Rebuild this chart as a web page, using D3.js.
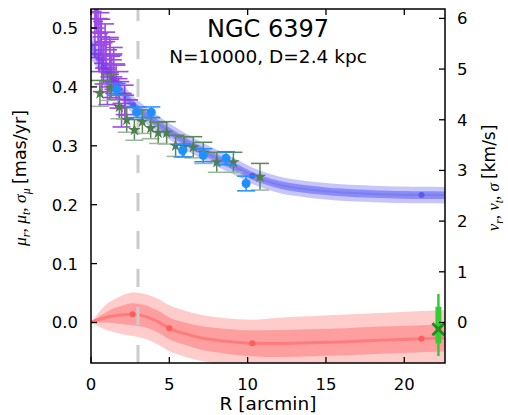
<!DOCTYPE html>
<html>
<head>
<meta charset="utf-8">
<script src="https://cdn.jsdelivr.net/npm/d3@7"></script>
<style>
  body { margin: 0; background: #fff; }
  text { font-family: "DejaVu Sans", sans-serif; fill: #000; }
</style>
</head>
<body>
<svg id="chart" width="508" height="415"></svg>
<script>
// ---------- data (proper motions in mas/yr, radius in arcmin) ----------
const xTicks = [0, 5, 10, 15, 20];
const yTicks = [0.0, 0.1, 0.2, 0.3, 0.4, 0.5];
const yRightTicks = [0, 1, 2, 3, 4, 5, 6];
const kmsPerMasYr = 11.62;

// dispersion model: median and 1/2-sigma half widths
const dispR   = [0, 0.5, 1.0, 1.5, 2.0, 2.7, 3.5, 4.5, 5.5, 6.5, 7.5, 8.5, 9.5, 10.3, 11, 12, 13, 14, 15, 16, 17, 18, 19, 20, 21.1, 22.6];
const dispMid = [0.470, 0.447, 0.427, 0.408, 0.391, 0.369, 0.352, 0.333, 0.316, 0.300, 0.286, 0.273, 0.260, 0.249, 0.242, 0.234, 0.229, 0.2255, 0.2228, 0.2208, 0.2193, 0.2182, 0.2173, 0.2167, 0.2163, 0.2160];
const dispIn  = [0.011, 0.010, 0.009, 0.0085, 0.008, 0.0075, 0.007, 0.007, 0.0068, 0.0066, 0.0065, 0.0065, 0.0065, 0.0065, 0.0065, 0.0065, 0.0065, 0.0065, 0.0065, 0.0065, 0.0065, 0.0065, 0.0065, 0.0065, 0.0065, 0.0065];
const dispOut = [0.022, 0.020, 0.018, 0.017, 0.016, 0.015, 0.0145, 0.014, 0.014, 0.014, 0.014, 0.014, 0.014, 0.014, 0.014, 0.014, 0.014, 0.014, 0.014, 0.014, 0.014, 0.014, 0.014, 0.014, 0.014, 0.014];
const dispNodeR = [2.7, 10.3, 21.1];
const dispNode  = [0.369, 0.249, 0.2163];

// rotation model: median and 1/2-sigma half widths
const rotR   = [0, 0.5, 1.0, 1.5, 2.0, 2.65, 3.5, 4.3, 5.0, 6.0, 7.0, 8.5, 10.3, 12, 14, 16.3, 18.5, 21.1, 22.6];
const rotMid = [0, 0.005, 0.009, 0.0115, 0.013, 0.0139, 0.010, 0.001, -0.0099, -0.019, -0.026, -0.0315, -0.0353, -0.0358, -0.0345, -0.0326, -0.030, -0.0275, -0.0263];
const rotIn  = [0, 0.005, 0.009, 0.013, 0.016, 0.0187, 0.0187, 0.0185, 0.0185, 0.019, 0.020, 0.021, 0.022, 0.023, 0.023, 0.023, 0.023, 0.023, 0.023];
const rotOut = [0, 0.012, 0.022, 0.028, 0.033, 0.037, 0.038, 0.039, 0.039, 0.039, 0.039, 0.039, 0.040, 0.044, 0.045, 0.046, 0.046, 0.047, 0.047];
const rotNodeR = [2.65, 5.0, 10.3, 21.1];
const rotNode  = [0.0139, -0.0099, -0.0353, -0.0275];

// inner-field measurements (violet): radius, value, radius error, value error
const inR    = [0.30, 0.36, 0.45, 0.60, 0.66, 0.90, 0.50, 0.96, 1.20, 1.20, 1.45, 1.43, 1.60, 1.30, 1.75, 2.15, 2.17, 1.95, 0.25, 0.80, 1.05, 0.70];
const inMu   = [0.540, 0.528, 0.511, 0.491, 0.485, 0.477, 0.471, 0.463, 0.454, 0.446, 0.437, 0.426, 0.409, 0.417, 0.389, 0.378, 0.366, 0.352, 0.500, 0.440, 0.400, 0.432];
const inRErr = [0.30, 0.32, 0.32, 0.50, 0.55, 0.64, 0.40, 0.70, 0.77, 0.77, 0.75, 0.96, 0.85, 0.70, 0.85, 0.85, 0.64, 0.22, 0.25, 0.60, 0.55, 0.45];
const inMuErr= [0.040, 0.035, 0.040, 0.035, 0.030, 0.030, 0.045, 0.030, 0.030, 0.035, 0.030, 0.030, 0.030, 0.035, 0.025, 0.025, 0.020, 0.020, 0.050, 0.035, 0.030, 0.040];

// second sample (stars) and third sample (filled circles)
const starR   = [0.57, 1.21, 1.81, 2.28, 2.77, 3.28, 3.81, 4.29, 4.83, 5.40, 5.94, 6.53, 7.17, 8.03, 9.09, 10.79];
const starMu  = [0.389, 0.399, 0.366, 0.344, 0.327, 0.341, 0.330, 0.322, 0.322, 0.300, 0.2985, 0.2975, 0.288, 0.272, 0.272, 0.2475];
const starErr = [0.022, 0.022, 0.020, 0.021, 0.0175, 0.020, 0.018, 0.018, 0.019, 0.018, 0.017, 0.018, 0.018, 0.017, 0.017, 0.0226];
const dotR    = [1.64, 2.91, 3.85, 5.85, 7.17, 8.62, 9.90];
const dotMu   = [0.396, 0.357, 0.357, 0.292, 0.284, 0.279, 0.236];
const dotErr  = [0.010, 0.009, 0.009, 0.011, 0.011, 0.011, 0.0125];

// line-of-sight summary at the outer edge
const losR = 22.18;
const losMark = -0.0115;
const los1 = [-0.0353, 0.0268];
const los2 = [-0.057, 0.0484];

// ---------- layout ----------
const svg = d3.select("#chart");
const L = 91, R = 445, T = 9, B = 363;
const x = d3.scaleLinear().domain([0, 22.6]).range([L, R]);
const y = d3.scaleLinear().domain([-0.0688, 0.5323]).range([B, T]);
const yKms = d3.scaleLinear().domain(y.domain().map(v => v * kmsPerMasYr)).range([B, T]);

svg.append("defs").append("clipPath").attr("id", "plot")
  .append("rect").attr("x", L).attr("y", T).attr("width", R - L).attr("height", B - T);
const g = svg.append("g").attr("clip-path", "url(#plot)");

function areaOf(rs, mid, half) {
  const pts = rs.map((r, i) => ({ r, lo: mid[i] - half[i], hi: mid[i] + half[i] }));
  return d3.area().curve(d3.curveMonotoneX)
    .x(d => x(d.r)).y0(d => y(d.lo)).y1(d => y(d.hi))(pts);
}
const line = d3.line().curve(d3.curveMonotoneX).x(d => x(d[0])).y(d => y(d[1]));

// rotation model
g.append("path").attr("d", areaOf(rotR, rotMid, rotOut)).attr("fill", "#ffcccc");
g.append("path").attr("d", areaOf(rotR, rotMid, rotIn)).attr("fill", "#ff9e9e");
g.append("path").attr("d", line(rotR.map((r, i) => [r, rotMid[i]])))
  .attr("fill", "none").attr("stroke", "#ff7c7c").attr("stroke-width", 3);
g.selectAll(".rn").data(rotNodeR).join("circle")
  .attr("cx", d => x(d)).attr("cy", (d, i) => y(rotNode[i])).attr("r", 3).attr("fill", "#ff5c5c");

// reference radius
g.append("line").attr("x1", x(3)).attr("x2", x(3)).attr("y1", B).attr("y2", T)
  .attr("stroke", "#cccccc").attr("stroke-width", 3).attr("stroke-dasharray", "18,20");

// dispersion model
g.append("path").attr("d", areaOf(dispR, dispMid, dispOut)).attr("fill", "#c6c6fc");
g.append("path").attr("d", areaOf(dispR, dispMid, dispIn)).attr("fill", "#8c8cf6");
g.append("path").attr("d", line(dispR.map((r, i) => [r, dispMid[i]])))
  .attr("fill", "none").attr("stroke", "#7c7cf3").attr("stroke-width", 2);
g.selectAll(".dn").data(dispNodeR).join("circle")
  .attr("cx", d => x(d)).attr("cy", (d, i) => y(dispNode[i])).attr("r", 3).attr("fill", "#5a5aee");

// inner-field measurements
const cap = 9;
const inG = g.append("g").attr("stroke", "#8a2be2").attr("stroke-width", 1.6).attr("opacity", 0.85);
inR.forEach((r, i) => {
  const cx = x(r), cy = y(inMu[i]);
  inG.append("line").attr("x1", x(r - inRErr[i])).attr("x2", x(r + inRErr[i])).attr("y1", cy).attr("y2", cy);
  const y0 = y(inMu[i] - inMuErr[i]), y1 = y(inMu[i] + inMuErr[i]);
  inG.append("line").attr("x1", cx).attr("x2", cx).attr("y1", y0).attr("y2", y1);
  inG.append("line").attr("x1", cx - cap).attr("x2", cx + cap).attr("y1", y0).attr("y2", y0);
  inG.append("line").attr("x1", cx - cap).attr("x2", cx + cap).attr("y1", y1).attr("y2", y1);
});

// filled-circle sample
const dotG = g.append("g");
dotR.forEach((r, i) => {
  const cx = x(r), y0 = y(dotMu[i] - dotErr[i]), y1 = y(dotMu[i] + dotErr[i]);
  dotG.append("line").attr("x1", cx).attr("x2", cx).attr("y1", y0).attr("y2", y1).attr("stroke", "#1e90ff").attr("stroke-width", 1.5);
  [y0, y1].forEach(yy => dotG.append("line").attr("x1", cx - cap).attr("x2", cx + cap)
    .attr("y1", yy).attr("y2", yy).attr("stroke", "#1e90ff").attr("stroke-width", 1.5));
});

// star sample
const starG = g.append("g");
starR.forEach((r, i) => {
  const cx = x(r), y0 = y(starMu[i] - starErr[i]), y1 = y(starMu[i] + starErr[i]);
  starG.append("line").attr("x1", cx).attr("x2", cx).attr("y1", y0).attr("y2", y1).attr("stroke", "#5a875a").attr("stroke-width", 1.5);
  starG.append("line").attr("x1", cx - cap).attr("x2", cx + cap).attr("y1", y1).attr("y2", y1).attr("stroke", "#5a875a").attr("stroke-width", 1.5);
  starG.append("line").attr("x1", cx - cap).attr("x2", cx + cap).attr("y1", y0).attr("y2", y0).attr("stroke", "#9bb89b").attr("stroke-width", 1.5);
});
dotG.raise();
dotG.selectAll("circle").data(dotR).join("circle")
  .attr("cx", d => x(d)).attr("cy", (d, i) => y(dotMu[i])).attr("r", 4.5).attr("fill", "#1e90ff");
starG.selectAll("path").data(starR).join("path")
  .attr("d", d3.symbol(d3.symbolStar, 48))
  .attr("transform", (d, i) => `translate(${x(d)},${y(starMu[i])})`)
  .attr("fill", "#4f7f4f");

// outer-edge summary
const lx = x(losR);
g.append("line").attr("x1", lx).attr("x2", lx).attr("y1", y(los2[0])).attr("y2", y(los2[1]))
  .attr("stroke", "#33cc33").attr("stroke-width", 2.5);
g.append("line").attr("x1", lx).attr("x2", lx).attr("y1", y(los1[0])).attr("y2", y(los1[1]))
  .attr("stroke", "#33cc33").attr("stroke-width", 6);
const mx = lx, my = y(losMark), a = 6;
g.append("path").attr("d", `M${mx - a},${my - a}L${mx + a},${my + a}M${mx - a},${my + a}L${mx + a},${my - a}`)
  .attr("stroke", "#228b22").attr("stroke-width", 3).attr("fill", "none");

// ---------- axes ----------
const axisG = svg.append("g");
axisG.append("rect").attr("x", L).attr("y", T).attr("width", R - L).attr("height", B - T)
  .attr("fill", "none").attr("stroke", "#000").attr("stroke-width", 1.5);
const tl = 6;
xTicks.forEach(v => {
  axisG.append("line").attr("x1", x(v)).attr("x2", x(v)).attr("y1", B).attr("y2", B - tl).attr("stroke", "#000").attr("stroke-width", 1.3);
  axisG.append("line").attr("x1", x(v)).attr("x2", x(v)).attr("y1", T).attr("y2", T + tl).attr("stroke", "#000").attr("stroke-width", 1.3);
  axisG.append("text").attr("x", x(v)).attr("y", 390).attr("text-anchor", "middle").attr("font-size", 16.5).text(v);
});
yTicks.forEach(v => {
  axisG.append("line").attr("x1", L).attr("x2", L + tl).attr("y1", y(v)).attr("y2", y(v)).attr("stroke", "#000").attr("stroke-width", 1.3);
  axisG.append("text").attr("x", 78).attr("y", y(v) + 6).attr("text-anchor", "end").attr("font-size", 16.5).text(v.toFixed(1));
});
yRightTicks.forEach(v => {
  axisG.append("line").attr("x1", R).attr("x2", R - tl).attr("y1", yKms(v)).attr("y2", yKms(v)).attr("stroke", "#000").attr("stroke-width", 1.3);
  axisG.append("text").attr("x", 457).attr("y", yKms(v) + 6).attr("text-anchor", "start").attr("font-size", 16.5).text(v);
});

axisG.append("text").attr("x", 268).attr("y", 410).attr("text-anchor", "middle").attr("font-size", 18.5).text("R [arcmin]");

function mathLabel(tx, ty, parts, unit, size) {
  const t = svg.append("text").attr("transform", `translate(${tx},${ty}) rotate(-90)`)
    .attr("text-anchor", "middle").attr("font-size", size);
  parts.forEach((p, i) => {
    t.append("tspan").attr("font-family", "Liberation Serif, serif").attr("font-style", "italic").text(p[0]);
    t.append("tspan").attr("font-family", "Liberation Serif, serif").attr("font-style", "italic")
      .attr("font-size", size * 0.68).attr("dy", 4).text(p[1]);
    t.append("tspan").attr("dy", -4).attr("font-family", "Liberation Serif, serif").text(i < parts.length - 1 ? ", " : " ");
  });
  t.append("tspan").text(unit);
}
mathLabel(26, 178, [["μ", "r"], ["μ", "t"], ["σ", "μ"]], "[mas/yr]", 17.5);
mathLabel(499, 178, [["v", "r"], ["v", "t"], ["σ", ""]], "[km/s]", 17);

svg.append("text").attr("x", 268).attr("y", 37).attr("text-anchor", "middle").attr("font-size", 24).text("NGC 6397");
svg.append("text").attr("x", 268).attr("y", 63).attr("text-anchor", "middle").attr("font-size", 18.5).text("N=10000, D=2.4 kpc");
</script>
</body>
</html>
